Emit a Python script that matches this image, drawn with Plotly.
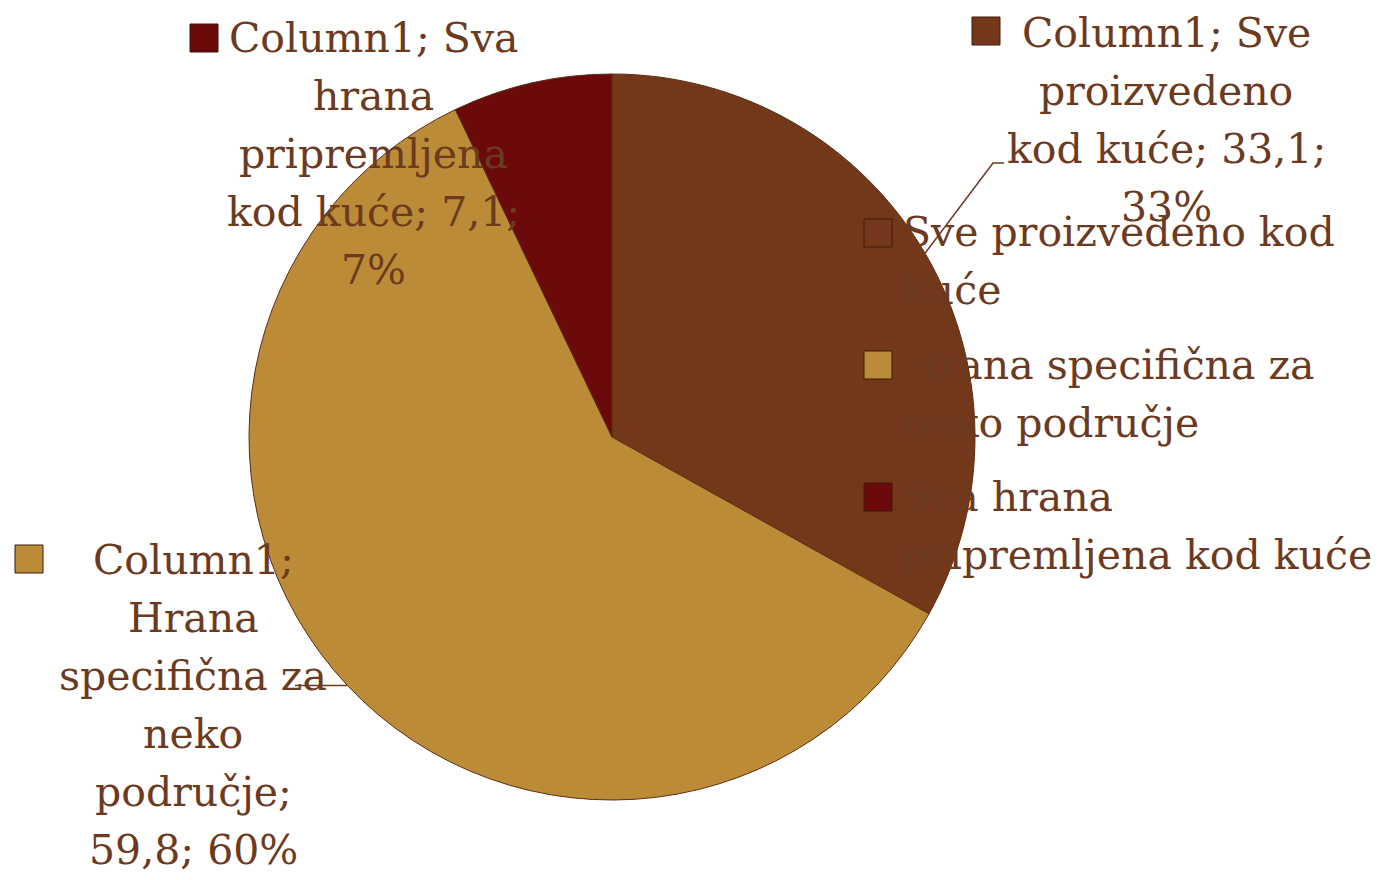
import math
import plotly.graph_objects as go

# --- data -------------------------------------------------------------
series_name = "Column1"
categories = [
    "Sve proizvedeno kod kuće",
    "Hrana specifična za neko područje",
    "Sva hrana pripremljena kod kuće",
]
values = [33.1, 59.8, 7.1]
slice_colors = ["#733819", "#bb8b37", "#6c0a0b"]

# --- figure geometry --------------------------------------------------
W, H = 1378, 880
dom_x = [249 / W, 975 / W]
dom_y = [1 - 800 / H, 1 - 74 / H]

TEXT_COLOR = "#6b3a1f"
FONT = "DejaVu Serif"
FS = 41
LINE_STEP = 58  # px between text lines

total = sum(values)
pct = [round(v / total * 100) for v in values]


def fmt(v):
    return f"{v:.1f}".replace(".", ",")


def px(x, y):
    """pixel -> paper coordinates"""
    return x / W, 1 - y / H


# pie centre / radius in pixels, and mid-angle point on the rim of each slice
cx = (dom_x[0] + dom_x[1]) / 2 * W
cy = (1 - (dom_y[0] + dom_y[1]) / 2) * H
r = min((dom_x[1] - dom_x[0]) * W, (dom_y[1] - dom_y[0]) * H) / 2
rim = []
acc = 0.0
for v in values:
    a = math.radians((acc + v / 2) / total * 360)
    rim.append((cx + r * math.sin(a), cy - r * math.cos(a)))
    acc += v

fig = go.Figure(
    go.Pie(
        labels=categories,
        values=values,
        sort=False,
        direction="clockwise",
        rotation=0,
        textinfo="none",
        hoverinfo="label+value+percent",
        marker=dict(colors=slice_colors, line=dict(color="#5a2f14", width=1)),
        domain=dict(x=dom_x, y=dom_y),
        showlegend=False,
    )
)

# data labels (series; category; value; percent)
data_labels = [
    f"{series_name}; Sve<br>proizvedeno<br>kod kuće; {fmt(values[0])};<br>{pct[0]}%",
    f"{series_name};<br>Hrana<br>specifična za<br>neko<br>područje;<br>{fmt(values[1])}; {pct[1]}%",
    f"{series_name}; Sva<br>hrana<br>pripremljena<br>kod kuće; {fmt(values[2])};<br>{pct[2]}%",
]
label_pos = [(1166, 33), (193, 560), (373, 38)]   # first-line centre
label_keys = [(986, 31), (29, 559), (204, 38)]

# legend entries
legend_text = [
    "Sve proizvedeno kod<br>kuće",
    "Hrana specifična za<br>neko područje",
    "Sva hrana<br>pripremljena kod kuće",
]
legend_pos = [(901, 232), (901, 365), (901, 497)]
legend_keys = [(878, 233), (878, 365), (878, 497)]

annotations = []
shapes = []
KEY = 28


def key_square(x, y, color):
    x0, y0 = px(x - KEY / 2, y + KEY / 2)
    x1, y1 = px(x + KEY / 2, y - KEY / 2)
    return dict(type="rect", xref="paper", yref="paper", x0=x0, y0=y0, x1=x1, y1=y1,
                fillcolor=color, line=dict(color="#3b1a08", width=1), layer="above")


def text_block(txt, x, y, anchor):
    for k, line in enumerate(txt.split("<br>")):
        px_, py_ = px(x, y + k * LINE_STEP)
        annotations.append(dict(text=line, x=px_, y=py_, xref="paper", yref="paper",
                                xanchor=anchor, yanchor="middle", align=anchor,
                                showarrow=False,
                                font=dict(family=FONT, size=FS, color=TEXT_COLOR)))


for i, txt in enumerate(data_labels):
    text_block(txt, *label_pos[i], "center")
    shapes.append(key_square(*label_keys[i], slice_colors[i]))

for i, txt in enumerate(legend_text):
    text_block(txt, *legend_pos[i], "left")
    shapes.append(key_square(*legend_keys[i], slice_colors[i]))


# leader lines from labels to slice rims
def path(points):
    pts = [px(x, y) for x, y in points]
    return "M " + " L ".join(f"{a:.5f},{b:.5f}" for a, b in pts)


shapes.append(dict(type="path", xref="paper", yref="paper",
                   path=path([(1004, 163), (993, 163), rim[0]]),
                   line=dict(color=TEXT_COLOR, width=1.5), layer="above"))
shapes.append(dict(type="path", xref="paper", yref="paper",
                   path=path([(295, rim[1][1]), rim[1]]),
                   line=dict(color=TEXT_COLOR, width=1.5), layer="above"))

fig.update_layout(
    width=W,
    height=H,
    margin=dict(l=0, r=0, t=0, b=0),
    paper_bgcolor="white",
    plot_bgcolor="white",
    annotations=annotations,
    shapes=shapes,
)

fig.write_html("out.html")
